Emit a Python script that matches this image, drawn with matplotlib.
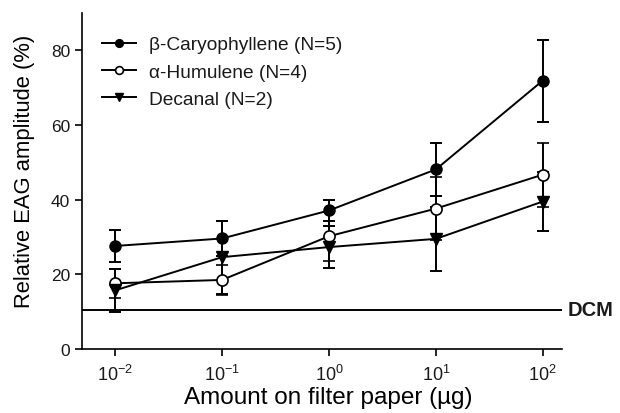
import matplotlib
matplotlib.use("Agg")
import matplotlib.pyplot as plt
import numpy as np

plt.rcParams['font.family'] = ['Liberation Sans', 'DejaVu Sans']
plt.rcParams['mathtext.fontset'] = 'custom'
plt.rcParams['mathtext.rm'] = 'Liberation Sans'
plt.rcParams['mathtext.it'] = 'Liberation Sans'
plt.rcParams['mathtext.bf'] = 'Liberation Sans:bold'
plt.rcParams['text.color'] = '#1a1a1a'
plt.rcParams['xtick.labelcolor'] = '#1a1a1a'
plt.rcParams['ytick.labelcolor'] = '#1a1a1a'

amounts = [1e-2, 1e-1, 1e0, 1e1, 1e2]
x_tick_labels = [r'$\mathrm{10^{-2}}$', r'$\mathrm{10^{-1}}$', r'$\mathrm{10^{0}}$',
                 r'$\mathrm{10^{1}}$', r'$\mathrm{10^{2}}$']

caryo_mean = [27.6, 29.6, 37.1, 48.1, 71.9]
caryo_err = [4.2, 4.7, 2.7, 7.2, 11.0]
humu_mean = [17.6, 18.5, 30.2, 37.6, 46.7]
humu_err = [3.9, 4.0, 6.5, 8.5, 8.6]
decanal_mean = [15.7, 24.6, 27.3, 29.5, 39.5]
decanal_err = [5.7, 9.8, 5.6, 8.5, 8.0]
dcm_level = 10.5

labels = ['β-Caryophyllene (N=5)', 'α-Humulene (N=4)', 'Decanal (N=2)']

fig = plt.figure(figsize=(6.2, 4.14), dpi=100)
ax = fig.add_axes([82/620, 1-350/414, (562-82)/620, (350-14)/414])

lw = 1.4
common = dict(color='black', lw=lw, capsize=4, capthick=lw, elinewidth=lw, ms=8)
ax.errorbar(amounts, caryo_mean, yerr=caryo_err, marker='o', mfc='black', mec='black', label=labels[0], **common)
ax.errorbar(amounts, humu_mean, yerr=humu_err, marker='o', mfc='white', mec='black', mew=1.2, label=labels[1], **common)
ax.errorbar(amounts, decanal_mean, yerr=decanal_err, marker='v', mfc='black', mec='black', label=labels[2], **common)

ax.axhline(dcm_level, color='black', lw=lw)
ax.text(1.012, dcm_level, 'DCM', transform=ax.get_yaxis_transform(), ha='left', va='center',
        fontsize=14.5, fontweight='bold')

ax.set_xscale('log')
ax.set_xlim(10**-2.31, 10**2.18)
ax.set_ylim(0, 90)
ax.set_xticks(amounts)
ax.set_xticklabels(x_tick_labels)
ax.minorticks_off()
ax.set_yticks([0, 20, 40, 60, 80])
ax.tick_params(axis='both', direction='out', length=5, width=1.2, labelsize=12.5)
ax.tick_params(axis='x', labelsize=13, pad=6)
for s in ['top', 'right']:
    ax.spines[s].set_visible(False)
for s in ['left', 'bottom']:
    ax.spines[s].set_linewidth(1.2)

ax.set_xlabel('Amount on filter paper (µg)', fontsize=17.5)
ax.set_ylabel('Relative EAG amplitude (%)', fontsize=15.8)
ax.xaxis.set_label_coords(0.513, -0.11)
ax.yaxis.set_label_coords(-0.098, 0.533)

handles, labs = ax.get_legend_handles_labels()
handles = [h[0] for h in handles]
leg = ax.legend(handles, labs, loc='upper left', bbox_to_anchor=(0.042, 0.932), frameon=False,
                fontsize=13.8, handlelength=1.75, handletextpad=0.7, labelspacing=0.52,
                borderpad=0, borderaxespad=0, markerscale=0.7)

fig.savefig('out.png', dpi=100)
